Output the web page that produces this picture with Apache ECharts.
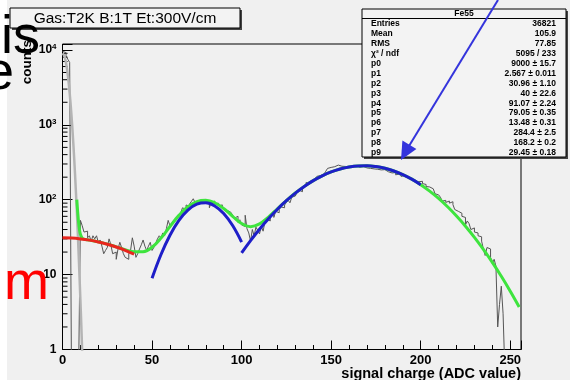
<!DOCTYPE html>
<html><head><meta charset="utf-8">
<script src="https://cdn.jsdelivr.net/npm/echarts@6/dist/echarts.min.js"></script>
<style>html,body{margin:0;padding:0;background:#f0f0f0}#c{width:570px;height:380px}</style>
</head><body><div id="c"></div>
<script>
// ---- data ----
// histogram counts, 1 ADC bins 0..255 (0 = empty bin)
const histCounts = [
 9600,9200,8400,7500,6800, 0,0,0,0,0,
 53,45,37,38,31,33,28,33,30,33,
 27,29,24,19,21,23,30,25,19,20,
 16,22,27,23,19,17,16,19,21,31,
 24,17,19,22,25,29,24,21,24,27,
 21,23,26,30,33,31,36,33,41,53,
 45,49,52,50,58,63,67,78,74,85,
 82,88,95,103,92,96,100,94,101,97,
 99,95,78,92,96,88,90,84,80,86,
 74,72,76,68,66,62,57,60,50,54,
 46,44,62,41,36,28,40,33,43,39,
 35,44,38,50,55,52,60,63,58,70,
 67,74,80,78,85,92,98,91,108,112,
 118,126,134,128,145,152,170,162,175,180,
 186,192,205,210,198,220,226,240,262,270,
 258,276,282,290,288,280,285,278,282,276,
 281,285,279,286,280,271,265,278,272,266,
 270,262,268,258,262,255,262,250,246,252,
 240,236,241,228,224,230,215,220,212,205,
 210,200,196,190,185,188,176,180,174,170,
 176,164,160,150,148,142,140,134,120,116,
 112,108,96,98,92,96,90,94,86,74,
 70,72,66,60,58,46,52,48,40,42,
 37,36,33,32,28,22,18,23,22,17,
 14,16,13,2,4,7,3,0,0,0,
 0,0,0,0,0,0
];
// pedestal fit (gray)
const pedX = [0,1,2,3,4,5,6,7,8,9,10,10.5,11];
const pedY = [9000,8342,6644,4547,2673,1350,586,218.5,70.0,19.3,4.55,2.1,0.93];
// low-side background fit (red)
const redX = [0,5,10,15,20,25,30,35,40];
const redY = [30.96,30.72,29.99,28.86,27.32,25.47,23.37,21.12,18.78];
// first peak fit (blue)
const blue1X = [50,55,60,65,70,75,80,85,90,95,100];
const blue1Y = [8.93,18.54,33.55,52.90,72.69,87.05,90.84,82.62,65.48,45.22,27.22];
// main peak fit (blue)
const blue2X = [100,105,110,115,120,125,130,135,140,145,150,155,160,165,170,175,180,185,190,195,200];
const blue2Y = [19.47,28.44,40.36,55.63,74.54,96.98,122.6,150.6,179.8,208.5,235.0,257.2,273.6,282.7,283.9,276.9,262.5,241.7,216.2,188.0,158.8];
// total fit (green)
const greenX = [8,8.5,9,9.5,10,11,12,13,15,20,25,30,35,40,45,50,55,60,65,70,75,80,85,90,95,100,105,110,115,120,125,130,135,140,145,150,155,160,165,170,175,180,185,190,195,200,205,210,215,220,225,230,235,240,245,250,255];
const greenY = [100.4,67.7,49.4,39.6,34.5,30.7,29.8,29.4,28.86,27.33,25.50,23.49,21.57,20.17,20.24,23.19,30.75,43.93,61.78,80.49,94.29,98.24,91.12,76.32,60.03,48.05,43.70,47.60,58.73,75.78,97.48,122.8,150.7,179.9,208.5,235.0,257.2,273.6,282.7,283.9,276.9,262.5,241.7,216.2,188.0,158.8,130.3,103.9,80.45,60.55,44.28,31.46,21.72,14.56,9.49,6.01,3.70];
// log-axis minor ticks
const yMinorTicks = [2,3,4,5,6,7,8,9,20,30,40,50,60,70,80,90,200,300,400,500,600,700,800,900,2000,3000,4000,5000,6000,7000,8000,9000];
// stats box
const statsTitle = 'Fe55';
const statsLabels = ['Entries','Mean','RMS','\u03c7\u00b2 / ndf','p0','p1','p2','p3','p4','p5','p6','p7','p8','p9'];
const statsValues = ['36821','105.9','77.85','5095 / 233','9000 \u00b1 15.7','2.567 \u00b1 0.011','30.96 \u00b1 1.10','40 \u00b1 22.6','91.07 \u00b1 2.24','79.05 \u00b1 0.35','13.48 \u00b1 0.31','284.4 \u00b1 2.5','168.2 \u00b1 0.2','29.45 \u00b1 0.18'];
const plotTitle = 'Gas:T2K B:1T Et:300V/cm';
const xTitle = 'signal charge (ADC value)';
const yTitle = 'counts';

// ---- build ----
const zip = (xs, ys) => xs.map((x, i) => [x, ys[i]]);
const FLOOR = 0.5; // empty bins drawn below the log floor (clipped)
const histData = histCounts.map((c, i) => [i, c > 0 ? c : FLOOR]);
histData.push([256, histCounts[255] > 0 ? histCounts[255] : FLOOR]);

const FONT = '"Liberation Sans", Arial, sans-serif';
const chart = echarts.init(document.getElementById('c'), null, {renderer: 'canvas'});

const graphics = [];
graphics.push({type:'rect', shape:{x:0,y:0,width:7,height:380}, style:{fill:'#ffffff'}, z:0, silent:true});
// title box
graphics.push({type:'rect', shape:{x:12,y:10,width:230,height:20}, style:{fill:'#444'}, z:10});
graphics.push({type:'rect', shape:{x:10,y:8,width:230,height:20}, style:{fill:'#f3f3f3', stroke:'#000', lineWidth:1}, z:11});
graphics.push({type:'text', style:{x:125, y:18.5, text:plotTitle, font:'15.5px '+FONT, fill:'#000', textAlign:'center', textVerticalAlign:'middle'}, z:12});
// slide text fragments
graphics.push({type:'text', style:{x:1, y:38, text:'is', font:'54px '+FONT, fill:'#000', textAlign:'left', textVerticalAlign:'middle'}, z:13});
graphics.push({type:'text', style:{x:-16, y:74, text:'e', font:'54px '+FONT, fill:'#000', textAlign:'left', textVerticalAlign:'middle'}, z:13});
graphics.push({type:'text', style:{x:4, y:284, text:'m', font:'54px '+FONT, fill:'#ff0000', textAlign:'left', textVerticalAlign:'middle'}, z:13});
// stats box
graphics.push({type:'rect', shape:{x:364,y:11,width:204,height:148}, style:{fill:'#444'}, z:10});
graphics.push({type:'rect', shape:{x:362,y:9,width:204,height:148}, style:{fill:'#f3f3f3', stroke:'#000', lineWidth:1}, z:11});
graphics.push({type:'line', shape:{x1:362,y1:18.5,x2:566,y2:18.5}, style:{stroke:'#000', lineWidth:1}, z:12});
graphics.push({type:'text', style:{x:464, y:14, text:statsTitle, font:'bold 8.5px '+FONT, fill:'#000', textAlign:'center', textVerticalAlign:'middle'}, z:12});
statsLabels.forEach((t, i) => {
  const y = 24 + i * 9.9;
  graphics.push({type:'text', style:{x:371, y:y, text:t, font:'bold 8.5px '+FONT, fill:'#000', textAlign:'left', textVerticalAlign:'middle'}, z:12});
  graphics.push({type:'text', style:{x:556, y:y, text:statsValues[i], font:'bold 8.5px '+FONT, fill:'#000', textAlign:'right', textVerticalAlign:'middle'}, z:12});
});
// arrow annotation
graphics.push({type:'line', shape:{x1:498,y1:0,x2:409,y2:146}, style:{stroke:'#3434dc', lineWidth:2}, z:14});
graphics.push({type:'polygon', shape:{points:[[401,160],[402.4,140.5],[416.4,149.1]]}, style:{fill:'#3434dc'}, z:14});
// axis titles
graphics.push({type:'text', style:{x:521, y:374, text:xTitle, font:'bold 14.5px '+FONT, fill:'#000', textAlign:'right', textVerticalAlign:'middle'}, z:12});
graphics.push({type:'text', x:27, y:40, rotation:Math.PI/2, style:{x:0, y:0, text:yTitle, font:'bold 13.5px '+FONT, fill:'#000', textAlign:'right', textVerticalAlign:'middle'}, z:12});

const supFmt = v => {
  const e = Math.round(Math.log10(v));
  if (Math.abs(Math.log10(v) - e) > 1e-6) return '';
  if (e === 0) return '{b|1}';
  if (e === 1) return '{b|10}';
  return '{b|10}{s|' + e + '}';
};

const lineBase = {type:'line', showSymbol:false, symbol:'none', clip:true, silent:true, animation:false};

chart.setOption({
  animation: false,
  backgroundColor: '#f0f0f0',
  grid: {left:62.5, right:49, top:44, bottom:30.5, show:true, borderColor:'#000', borderWidth:1, backgroundColor:'transparent'},
  xAxis: [
    {type:'value', min:0, max:256, interval:10,
     axisLine:{show:false}, splitLine:{show:false},
     axisTick:{inside:true, length:4.5, lineStyle:{color:'#000', width:1}},
     axisLabel:{margin:4, formatter: v => (v % 50 === 0 ? String(v) : ''), fontFamily:FONT, fontWeight:'bold', fontSize:13, color:'#000'}},
    {type:'value', min:0, max:256, interval:50, position:'bottom', offset:0,
     axisLine:{show:false}, splitLine:{show:false}, axisLabel:{show:false},
     axisTick:{inside:true, length:9, lineStyle:{color:'#000', width:1}}}
  ],
  yAxis: {type:'log', logBase:10, min:1, max:12000,
     axisLine:{show:false}, splitLine:{show:false},
     axisTick:{inside:true, length:10, lineStyle:{color:'#000', width:1}},
     axisLabel:{margin:6, formatter: supFmt,
       rich:{b:{fontFamily:FONT, fontWeight:'bold', fontSize:12, color:'#000', lineHeight:14},
             s:{fontFamily:FONT, fontWeight:'bold', fontSize:8, color:'#000', lineHeight:14, verticalAlign:'top'}}}},
  graphic: graphics,
  series: [
    {type:'custom', coordinateSystem:'cartesian2d', silent:true, clip:false, z:1,
     data: yMinorTicks.map(v => [0, v]),
     renderItem: (params, api) => {
       const p = api.coord([0, api.value(1)]);
       return {type:'line', shape:{x1:p[0], y1:p[1], x2:p[0]+5, y2:p[1]}, style:{stroke:'#000', lineWidth:1}};
     }},
    Object.assign({}, lineBase, {name:'hist', data:histData, step:'end', z:2, lineStyle:{color:'#555', width:1}}),
    Object.assign({}, lineBase, {name:'pedestal', data:zip(pedX, pedY), smooth:0.4, z:3, lineStyle:{color:'#b4b4b4', width:2.5}}),
    Object.assign({}, lineBase, {name:'total', data:zip(greenX, greenY), smooth:0.4, z:4, lineStyle:{color:'#3ee43e', width:3}}),
    Object.assign({}, lineBase, {name:'bg', data:zip(redX, redY), smooth:0.4, z:5, lineStyle:{color:'#e8261e', width:3}}),
    Object.assign({}, lineBase, {name:'peak1', data:zip(blue1X, blue1Y), smooth:0.4, z:6, lineStyle:{color:'#1e1ec8', width:3}}),
    Object.assign({}, lineBase, {name:'peak2', data:zip(blue2X, blue2Y), smooth:0.4, z:6, lineStyle:{color:'#1e1ec8', width:3}})
  ]
});
</script></body></html>
